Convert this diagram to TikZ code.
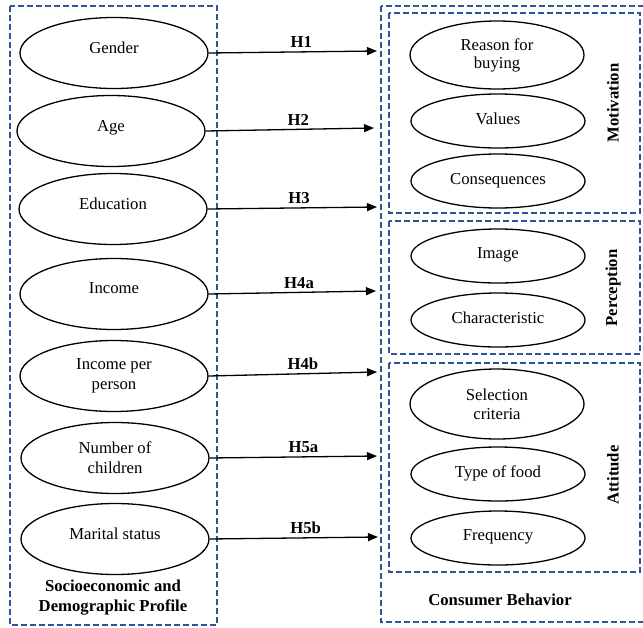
\documentclass[tikz,border=0pt]{standalone}
\usepackage{fontspec}
\setmainfont{Liberation Serif}
\usetikzlibrary{shapes.geometric,arrows.meta}
\definecolor{boxblue}{RGB}{47,85,151}
\begin{document}
\begin{tikzpicture}[x=1pt,y=-1pt,
  oval/.style={draw,ellipse,line width=1.3pt,inner sep=0pt,align=center,
    font=\fontsize{16.7}{20}\selectfont},
  lov/.style={oval,minimum width=188pt,minimum height=71pt},
  lovone/.style={lov,text depth=11pt},
  rov/.style={oval,minimum width=174pt,minimum height=54pt},
  rovone/.style={rov,text depth=5pt},
  frame/.style={draw=boxblue,line width=1.8pt,dash pattern=on 6pt off 3pt},
  hyp/.style={-{Triangle[length=10pt,width=8pt]},line width=1.3pt},
  hlab/.style={font=\fontsize{16.7}{19}\selectfont\bfseries},
  side/.style={font=\fontsize{16.7}{19}\selectfont\bfseries,rotate=90},
  bottomlab/.style={font=\fontsize{16.7}{20}\selectfont\bfseries,align=center}]
\useasboundingbox (0,0) rectangle (643,627);

% frames
\draw[frame] (10,6) rectangle (217,625);
\draw[frame] (381,6) rectangle (648,622);
\draw[frame] (389,13) rectangle (640,213);
\draw[frame] (389,221) rectangle (640,354);
\draw[frame] (389,363) rectangle (640,572);

% left ellipses
\node[lovone] (gen) at (114,53) {Gender};
\node[lovone] (age) at (111,131) {Age};
\node[lovone] (edu) at (113,209) {Education};
\node[lovone] (inc) at (114,294) {Income};
\node[lov] (ipp) at (114,376) {Income per\\person};
\node[lov] (noc) at (115,458) {Number of\\children};
\node[lovone] (mar) at (115,539) {Marital status};

% right ellipses
\node[rov,minimum height=68pt,font=\fontsize{16.7}{18}\selectfont] (rea) at (497,55) {Reason for\\buying};
\node[rovone] (val) at (498,121) {Values};
\node[rovone] (con) at (498,181) {Consequences};
\node[rovone] (img) at (498,256) {Image};
\node[rovone] (cha) at (498,320) {Characteristic};
\node[rov,minimum height=70pt,font=\fontsize{16.7}{19}\selectfont] (sel) at (497,404) {Selection\\criteria};
\node[rovone] (tof) at (498,474) {Type of food};
\node[rovone] (fre) at (498,538) {Frequency};

% side labels
\node[side] (mot) at (613,103) {Motivation};
\node[side] (per) at (613,288) {Perception};
\node[side] (att) at (613,475) {Attitude};

% bottom labels
\node[bottomlab] (sdp) at (113,598) {Socioeconomic and\\Demographic Profile};
\node[bottomlab] (cb) at (500,600) {Consumer Behavior};

% arrow targets
\coordinate (t1) at (377,51);
\coordinate (t2) at (374,128);
\coordinate (t3) at (377,207);
\coordinate (t4a) at (376,291);
\coordinate (t4b) at (377,372);
\coordinate (t5a) at (377,456);
\coordinate (t5b) at (378,537);

\draw[hyp] (gen.east) -- (t1) node[pos=0.55,above,hlab] {H1};
\draw[hyp] (age.east) -- (t2) node[pos=0.55,above,hlab] {H2};
\draw[hyp] (edu.east) -- (t3) node[pos=0.54,above,hlab] {H3};
\draw[hyp] (inc.east) -- (t4a) node[pos=0.54,above,hlab] {H4a};
\draw[hyp] (ipp.east) -- (t4b) node[pos=0.56,above,hlab] {H4b};
\draw[hyp] (noc.east) -- (t5a) node[pos=0.56,above,hlab] {H5a};
\draw[hyp] (mar.east) -- (t5b) node[pos=0.57,above,hlab] {H5b};
\end{tikzpicture}
\end{document}
